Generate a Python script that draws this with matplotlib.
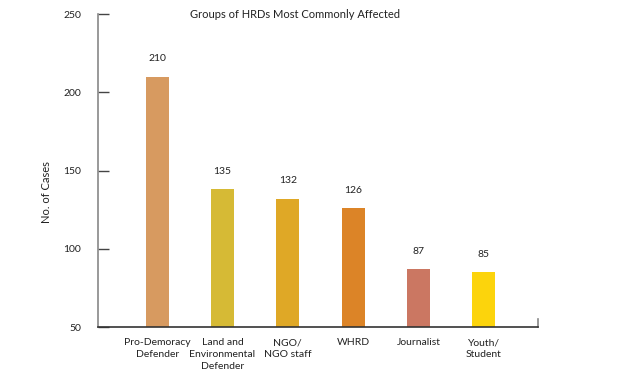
import matplotlib.pyplot as plt
import numpy as np

categories = ['Pro-Demoracy\nDefender', 'Land and\nEnvironmental\nDefender',
              'NGO/\nNGO staff', 'WHRD', 'Journalist', 'Youth/\nStudent']
heights = [210, 138, 132, 126, 87, 85]
labels = ['210', '135', '132', '126', '87', '85']
colors = ['#D79A60', '#D6BA35', '#DFA826', '#DC8427', '#CB7762', '#FCD40C']
yticks = [50, 100, 150, 200, 250]

plt.rcParams['font.family'] = ['Lato', 'DejaVu Sans']

fig = plt.figure(figsize=(6.23, 3.83), dpi=100)
ax = fig.add_axes([0.157, 0.146, 0.7066, 0.8174])

x = np.arange(len(categories))
ax.bar(x, heights, width=0.35, color=colors, bottom=0)
for xi, h, lab in zip(x, heights, labels):
    ax.annotate(lab, (xi, h), xytext=(0, 13), textcoords='offset points',
                ha='center', va='center', fontsize=7.5, color='#222222')

ax.set_ylim(50, 250)
ax.set_xlim(-0.91, 5.83)
ax.set_yticks(yticks)
ax.set_xticks(x)
ax.set_xticklabels(categories, fontsize=7.5, color='#222222', linespacing=1.45)
ax.tick_params(axis='x', length=0, pad=8)
ax.tick_params(axis='y', direction='in', length=8, width=1, color='#444444',
               pad=12, labelsize=7.5, labelcolor='#222222')

for s in ['top', 'right']:
    ax.spines[s].set_visible(False)
ax.spines['left'].set_color('#888888')
ax.spines['left'].set_linewidth(1.2)
ax.spines['bottom'].set_color('#333333')
ax.spines['bottom'].set_linewidth(1.2)
ax.axvline(5.83, ymin=0, ymax=0.025, color='#888888', lw=1.2, clip_on=False)

ax.set_ylabel('No. of Cases', fontsize=8, color='#222222', labelpad=8)
ax.yaxis.label.set_y(0.43)
fig.text(0.474, 0.963, 'Groups of HRDs Most Commonly Affected', ha='center',
         va='center', fontsize=8, color='#222222')

fig.savefig('out.png', dpi=100)
